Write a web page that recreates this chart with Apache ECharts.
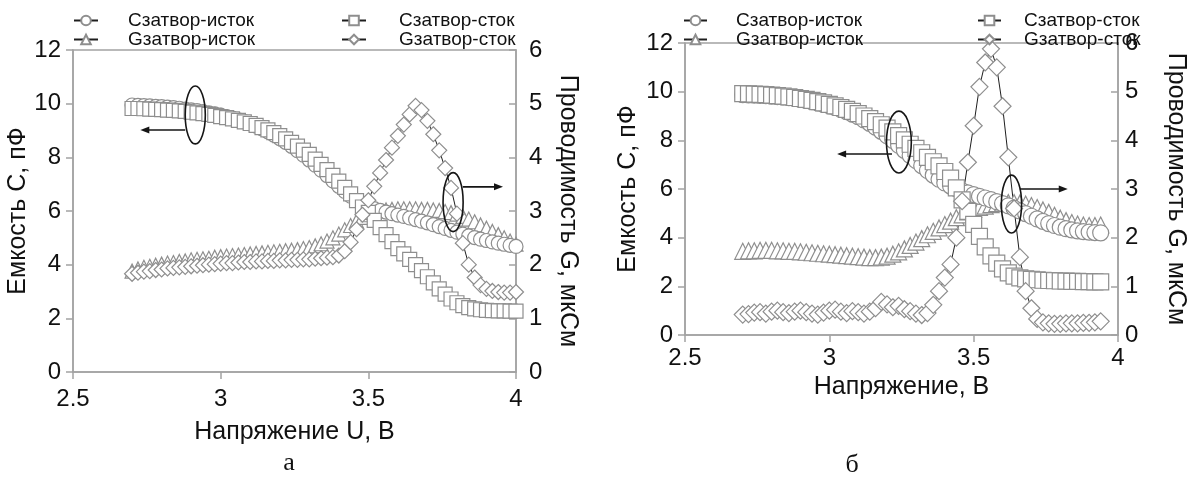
<!DOCTYPE html>
<html><head><meta charset="utf-8">
<script src="https://cdn.jsdelivr.net/npm/echarts@6/dist/echarts.min.js"></script>
<style>html,body{margin:0;padding:0;background:#fff}#c{width:1190px;height:477px}</style>
</head><body><div id="c"></div>
<script>
// ---------- data: panel "а" ----------
const voltageA = [2.70,2.72,2.74,2.76,2.78,2.80,2.82,2.84,2.86,2.88,2.90,2.92,2.94,2.96,2.98,3.00,3.02,3.04,3.06,3.08,3.10,3.12,3.14,3.16,3.18,3.20,3.22,3.24,3.26,3.28,3.30,3.32,3.34,3.36,3.38,3.40,3.42,3.44,3.46,3.48,3.50,3.52,3.54,3.56,3.58,3.60,3.62,3.64,3.66,3.68,3.70,3.72,3.74,3.76,3.78,3.80,3.82,3.84,3.86,3.88,3.90,3.92,3.94,3.96,3.98,4.00];
const cGateSourceA = [9.95,9.94,9.93,9.92,9.90,9.89,9.87,9.85,9.83,9.80, 9.77,9.74,9.70,9.66,9.62, 9.57,9.52,9.46,9.40,9.33, 9.25,9.16,9.06,8.95,8.83, 8.70,8.56,8.41,8.25,8.08, 7.90,7.71,7.52,7.32,7.12, 6.92,6.73,6.55,6.40,6.27, 6.17,6.09,6.02,5.96,5.90, 5.85,5.80,5.74,5.68,5.62, 5.56,5.49,5.42,5.35,5.28, 5.21,5.14,5.07,5.01,4.95, 4.90,4.85,4.80,4.76,4.72, 4.68];
const cGateDrainA = [9.82,9.82,9.81,9.80,9.79,9.78,9.76,9.75,9.73,9.71, 9.68,9.66,9.63,9.60,9.56, 9.52,9.48,9.43,9.38,9.32, 9.26,9.19,9.11,9.02,8.92, 8.81,8.69,8.56,8.42,8.27, 8.11,7.93,7.74,7.54,7.33, 7.11,6.88,6.64,6.39,6.15, 5.95,5.65,5.38,5.12,4.86, 4.60,4.40,4.20,4.00,3.78, 3.55,3.32,3.10,2.90,2.72, 2.58,2.47,2.40,2.35,2.32, 2.30,2.29,2.28,2.28,2.27, 2.27];
const gGateSourceA = [1.88,1.92,1.95,1.97,1.99,2.01,2.03,2.04,2.06,2.07, 2.09,2.10,2.11,2.12,2.14, 2.15,2.16,2.17,2.18,2.19, 2.20,2.21,2.22,2.23,2.24, 2.25,2.26,2.27,2.28,2.30, 2.32,2.35,2.39,2.44,2.50, 2.57,2.65,2.73,2.81,2.88, 2.93,2.97,3.00,3.02,3.03, 3.04,3.04,3.04,3.04,3.03, 3.03,3.02,3.01,2.99,2.97, 2.94,2.90,2.85,2.80,2.74, 2.68,2.62,2.56,2.50,2.44, 2.38];
const gGateDrainA = [1.83,1.85,1.87,1.88,1.90,1.91,1.93,1.94,1.95,1.96, 1.97,1.98,1.99,2.00,2.01, 2.02,2.03,2.03,2.04,2.05, 2.05,2.06,2.06,2.07,2.07, 2.08,2.08,2.09,2.09,2.10, 2.10,2.11,2.12,2.13,2.14, 2.17,2.25,2.42,2.66,2.93, 3.20,3.46,3.71,3.95,4.18, 4.40,4.61,4.80,4.96,4.88, 4.68,4.43,4.13,3.80,3.43, 2.95,2.40,2.00,1.76,1.62, 1.55,1.51,1.49,1.48,1.48, 1.49];

// ---------- data: panel "б" ----------
const voltageB = [2.70,2.72,2.74,2.76,2.78,2.80,2.82,2.84,2.86,2.88,2.90,2.92,2.94,2.96,2.98,3.00,3.02,3.04,3.06,3.08,3.10,3.12,3.14,3.16,3.18,3.20,3.22,3.24,3.26,3.28,3.30,3.32,3.34,3.36,3.38,3.40,3.42,3.44,3.46,3.48,3.50,3.52,3.54,3.56,3.58,3.60,3.62,3.64,3.66,3.68,3.70,3.72,3.74,3.76,3.78,3.80,3.82,3.84,3.86,3.88,3.90,3.92,3.94];
const cGateSourceB = [9.88,9.87,9.86,9.85,9.84,9.82,9.80,9.78,9.75,9.72, 9.68,9.64,9.59,9.54,9.48, 9.42,9.35,9.27,9.18,9.08, 8.97,8.84,8.70,8.54,8.37, 8.19,8.00,7.80,7.59,7.38, 7.17,6.96,6.76,6.57,6.40, 6.25,6.12,6.01,5.92,5.84, 5.77,5.70,5.63,5.56,5.48, 5.40,5.31,5.21,5.10,4.99, 4.88,4.77,4.67,4.58,4.50, 4.43,4.37,4.32,4.28,4.25, 4.23,4.21,4.20];
const cGateDrainB = [9.92,9.91,9.90,9.89,9.88,9.86,9.84,9.82,9.79,9.76, 9.72,9.68,9.64,9.59,9.54, 9.48,9.42,9.35,9.27,9.19, 9.10,9.00,8.89,8.77,8.64, 8.50,8.35,8.19,8.02,7.84, 7.67,7.49,7.30,7.12,6.95, 6.72,6.45,6.05,5.55,5.08, 4.55,4.05,3.62,3.25,2.95, 2.72,2.55,2.42,2.35,2.31, 2.29,2.27,2.25,2.24,2.23, 2.22,2.21,2.20,2.20,2.19, 2.19,2.18,2.18];
const gGateSourceB = [1.72,1.73,1.73,1.74,1.74,1.74,1.73,1.73,1.72,1.72, 1.71,1.70,1.69,1.68,1.67, 1.66,1.65,1.64,1.63,1.62, 1.61,1.60,1.59,1.59,1.60, 1.62,1.66,1.71,1.77,1.84, 1.91,1.98,2.06,2.13,2.20, 2.27,2.34,2.41,2.47,2.53, 2.58,2.62,2.65,2.68,2.70, 2.71,2.72,2.72,2.71,2.69, 2.66,2.62,2.57,2.52,2.46, 2.40,2.35,2.31,2.28,2.26, 2.25,2.25,2.26];
const gGateDrainB = [0.42,0.43,0.46,0.47,0.44,0.48,0.50,0.47,0.45,0.48, 0.50,0.47,0.44,0.42,0.46, 0.50,0.52,0.48,0.45,0.49, 0.47,0.44,0.48,0.55,0.68, 0.63,0.57,0.60,0.53,0.49, 0.44,0.41,0.45,0.62,0.90, 1.18,1.45,2.00,2.75,3.55, 4.30,5.10,5.60,5.88,5.50, 4.70,3.65,2.60,1.60,0.90, 0.55,0.33,0.26,0.24,0.23, 0.23,0.24,0.24,0.24,0.25, 0.25,0.26,0.28];

// ---------- labels ----------
const seriesNames = ['Сзатвор-исток', 'Gзатвор-исток', 'Сзатвор-сток', 'Gзатвор-сток'];
const capacitanceName = 'Емкость С, пФ';
const conductanceName = 'Проводимость G, мкСм';
const voltageNameA = 'Напряжение U, В';
const voltageNameB = 'Напряжение, В';
const panelLabels = ['а', 'б'];

// annotations in data units: [x, y, halfWidthX, halfHeightY] on the capacitance axis
const ellipsesA = [[2.914, 9.58, 0.034, 1.08], [3.787, 6.33, 0.034, 1.10]];
const arrowsA = [[2.88, 2.728, 9.02], [3.82, 3.956, 6.90]];
const ellipsesB = [[3.241, 7.93, 0.043, 1.27], [3.631, 5.38, 0.035, 1.19]];
const arrowsB = [[3.217, 3.027, 7.44], [3.66, 3.826, 6.00]];

const zip = (xs, ys) => xs.map((x, i) => [x, ys[i]]);
const FONT = 'Liberation Sans';
const AX = '#a3a3a3';

function mk(name, xs, ys, symbol, size, xi, yi) {
  return {
    name, type: 'line', data: zip(xs, ys), xAxisIndex: xi, yAxisIndex: yi,
    symbol, symbolSize: size, showAllSymbol: true, animation: false,
    lineStyle: { color: '#1e1e1e', width: 1 },
    itemStyle: { color: '#fff', borderColor: '#8e8e8e', borderWidth: 1.2 },
    emphasis: { disabled: true }
  };
}

function xAx(grid, name, gap, margin) {
  return {
    type: 'value', gridIndex: grid, min: 2.5, max: 4, interval: 0.5,
    name, nameLocation: 'middle', nameGap: gap,
    nameTextStyle: { fontFamily: FONT, fontSize: 25, color: '#111' },
    axisLine: { lineStyle: { color: AX, width: 1.5 } },
    axisTick: { show: true, length: 7, lineStyle: { color: AX, width: 1.5 } },
    axisLabel: { fontFamily: FONT, fontSize: 24, color: '#111', margin },
    splitLine: { show: false }
  };
}
function yAx(grid, pos, max, interval, name, gap, margin) {
  return {
    type: 'value', gridIndex: grid, position: pos, min: 0, max, interval,
    name, nameLocation: 'middle', nameGap: gap, nameRotate: pos === 'left' ? 90 : -90,
    nameTextStyle: { fontFamily: FONT, fontSize: 25, color: '#111' },
    axisLine: { show: true, lineStyle: { color: AX, width: 1.5 } },
    axisTick: { show: true, length: 7, inside: pos === 'right', lineStyle: { color: AX, width: 1.5 } },
    axisLabel: { fontFamily: FONT, fontSize: 24, color: '#111', margin },
    splitLine: { show: false }
  };
}
function lg(left, top, names, iw, fs, pad) {
  return {
    left, top, orient: 'vertical', data: names, itemWidth: iw, itemHeight: 12, itemGap: 0,
    selectedMode: false,
    textStyle: { fontFamily: FONT, fontSize: fs, color: '#111', padding: [0, 0, 0, pad], lineHeight: 18, height: 18 }
  };
}

const chart = echarts.init(document.getElementById('c'), null, { renderer: 'canvas' });
chart.setOption({
  animation: false,
  backgroundColor: '#fff',
  grid: [
    { left: 73, right: 674, top: 50, bottom: 105, show: true, borderColor: AX, borderWidth: 1.5, backgroundColor: 'transparent' },
    { left: 685, right: 72, top: 43, bottom: 142, show: true, borderColor: AX, borderWidth: 1.5, backgroundColor: 'transparent' }
  ],
  xAxis: [xAx(0, voltageNameA, 48, 15), xAx(1, voltageNameB, 38, 11)],
  yAxis: [
    yAx(0, 'left', 12, 2, capacitanceName, 40, 12),
    yAx(0, 'right', 6, 1, conductanceName, 39, 13),
    yAx(1, 'left', 12, 2, capacitanceName, 44, 12),
    yAx(1, 'right', 6, 1, conductanceName, 45, 7)
  ],
  legend: [
    lg(68, 6, [seriesNames[0], seriesNames[1]], 24, 19, 25),
    lg(336, 6, [seriesNames[2], seriesNames[3]], 24, 19, 28),
    lg(678, 6, [seriesNames[0], seriesNames[1]], 23, 19, 24),
    lg(972, 6, [seriesNames[2], seriesNames[3]], 23, 19, 18)
  ],
  series: [
    mk(seriesNames[1], voltageA, gGateSourceA, 'triangle', 14, 0, 1),
    mk(seriesNames[0], voltageA, cGateSourceA, 'circle', 14, 0, 0),
    mk(seriesNames[2], voltageA, cGateDrainA, 'rect', 14, 0, 0),
    mk(seriesNames[3], voltageA, gGateDrainA, 'diamond', 15, 0, 1),
    mk(seriesNames[1], voltageB, gGateSourceB, 'triangle', 16, 1, 3),
    mk(seriesNames[0], voltageB, cGateSourceB, 'circle', 16, 1, 2),
    mk(seriesNames[2], voltageB, cGateDrainB, 'rect', 16, 1, 2),
    mk(seriesNames[3], voltageB, gGateDrainB, 'diamond', 17, 1, 3)
  ]
});

function annot(xi, yi, ellipses, arrows) {
  const cv = p => chart.convertToPixel({ xAxisIndex: xi, yAxisIndex: yi }, p);
  const els = [];
  ellipses.forEach(([x, y, dx, dy]) => {
    const c = cv([x, y]);
    const rx = cv([x + dx, y])[0] - c[0];
    const ry = c[1] - cv([x, y + dy])[1];
    els.push({ type: 'ellipse', z: 100, shape: { cx: c[0], cy: c[1], rx, ry }, style: { fill: null, stroke: '#151515', lineWidth: 1.6 } });
  });
  arrows.forEach(([x1, x2, y]) => {
    const a = cv([x1, y]), b = cv([x2, y]);
    const d = b[0] > a[0] ? 1 : -1;
    els.push({ type: 'line', z: 100, shape: { x1: a[0], y1: a[1], x2: b[0] - d * 6, y2: b[1] }, style: { stroke: '#151515', lineWidth: 1.6 } });
    els.push({ type: 'polygon', z: 100, shape: { points: [[b[0], b[1]], [b[0] - d * 9, b[1] - 3.5], [b[0] - d * 9, b[1] + 3.5]] }, style: { fill: '#151515' } });
  });
  return els;
}

const g = [].concat(annot(0, 0, ellipsesA, arrowsA), annot(1, 2, ellipsesB, arrowsB));
g.push({ type: 'text', x: 289, y: 463, style: { text: panelLabels[0], font: '26px "Liberation Serif"', fill: '#111', textAlign: 'center', textVerticalAlign: 'middle' } });
g.push({ type: 'text', x: 852, y: 465, style: { text: panelLabels[1], font: '26px "Liberation Serif"', fill: '#111', textAlign: 'center', textVerticalAlign: 'middle' } });
chart.setOption({ graphic: g });
</script></body></html>
